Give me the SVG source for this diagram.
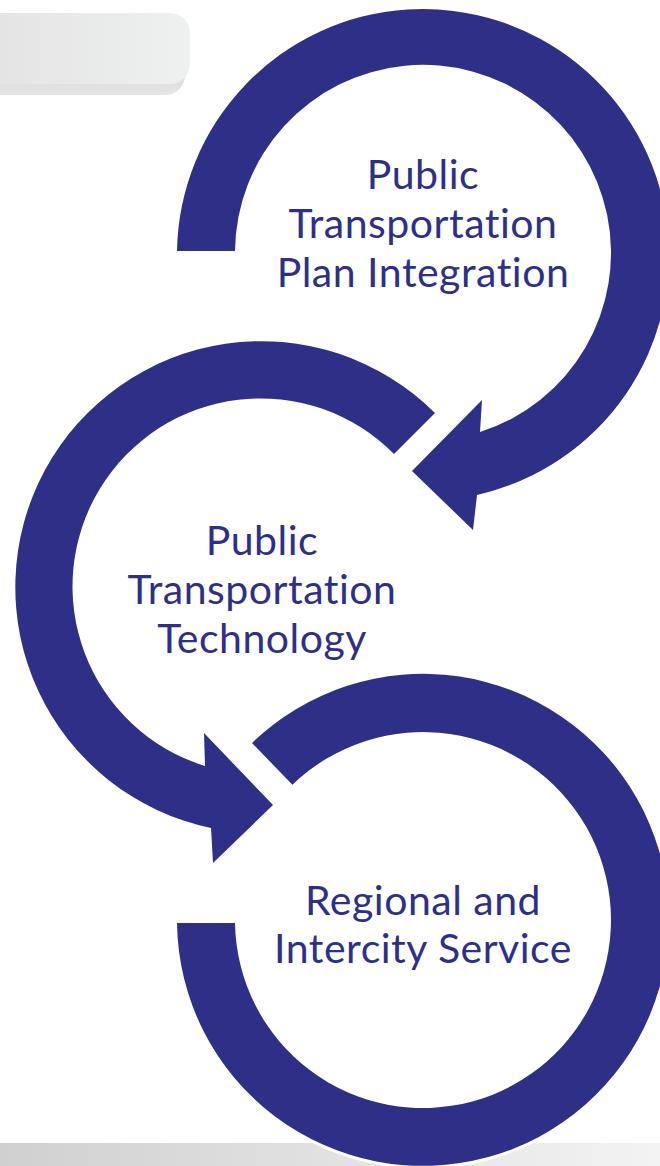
<svg xmlns="http://www.w3.org/2000/svg" width="660" height="1166" viewBox="0 0 660 1166">
  <defs>
    <linearGradient id="tab" x1="0" y1="0" x2="1" y2="0">
      <stop offset="0" stop-color="#e2e2e2"/>
      <stop offset="1" stop-color="#eff0f0"/>
    </linearGradient>
    <linearGradient id="tabShadow" x1="0" y1="0" x2="0" y2="1">
      <stop offset="0" stop-color="#bdbdbd"/>
      <stop offset="1" stop-color="#e6e6e6"/>
    </linearGradient>
    <linearGradient id="band" x1="0" y1="0" x2="1" y2="0">
      <stop offset="0" stop-color="#d0d0d0"/>
      <stop offset="1" stop-color="#f3f3f3"/>
    </linearGradient>
    <style>
      .arrow { fill: #2e3088; }
      .halo { stroke: #ffffff; stroke-width: 6; paint-order: stroke; stroke-linejoin: round; }
      .label { font-family: Lato, "Liberation Sans", sans-serif; font-size: 41px; letter-spacing: 0.5px; font-variant-ligatures: none; fill: #2e3088; text-anchor: middle; }
    </style>
  </defs>

  <g id="header-tab">
    <rect x="-30" y="22" width="215" height="73" rx="20" fill="url(#tabShadow)"/>
    <rect x="-30" y="13" width="220" height="71" rx="20" fill="url(#tab)"/>
  </g>

  <rect id="footer-band" x="0" y="1143" width="660" height="23" fill="url(#band)"/>

  <g id="connectors">
    <path id="arrow-top" class="arrow" d="M 177 251 A 246 246 0 1 1 477 495 L 473 530 L 412 471 L 482 400 L 480 432 A 188 188 0 1 0 235 251 Z"/>
    <path id="arrow-middle" class="arrow" d="M 435 413 A 246 246 0 1 0 211 828 L 213 863 L 273 805 L 204 733 L 205 766 A 188 188 0 1 1 394 454 Z"/>
    <path id="arrow-bottom" class="arrow halo" d="M 252 743 A 246 246 0 1 1 177 923 L 235 923 A 188 188 0 1 0 292.4 784.8 Z"/>
  </g>

  <g id="node-plan-integration">
    <text class="label" x="423" y="189">Public</text>
    <text class="label" x="423" y="238">Transportation</text>
    <text class="label" x="423" y="287">Plan Integration</text>
  </g>
  <g id="node-technology">
    <text class="label" x="262" y="555">Public</text>
    <text class="label" x="262" y="604">Transportation</text>
    <text class="label" x="262" y="653">Technology</text>
  </g>
  <g id="node-regional">
    <text class="label" x="423" y="915">Regional and</text>
    <text class="label" x="423" y="963">Intercity Service</text>
  </g>
</svg>
